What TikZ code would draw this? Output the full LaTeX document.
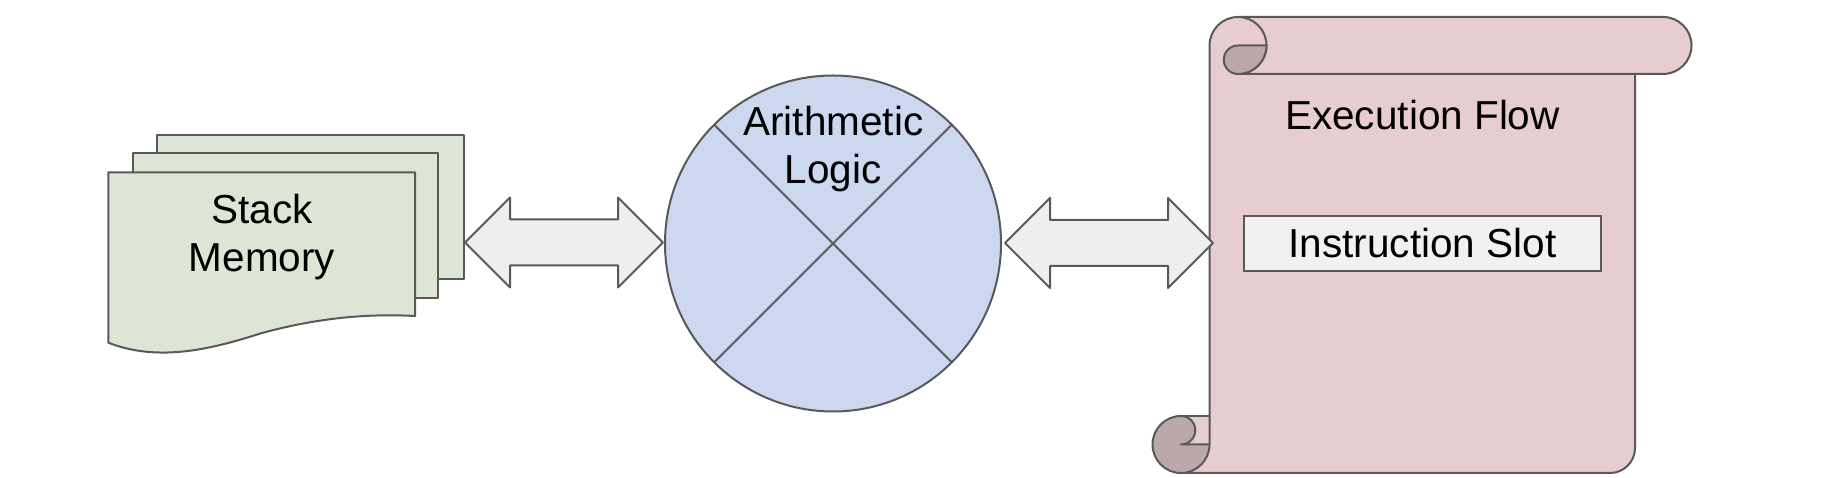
\documentclass[tikz,border=0pt]{standalone}
\usepackage{fontspec}
\setmainfont{Liberation Sans}
\usetikzlibrary{calc}
\definecolor{edgegray}{HTML}{595959}
\definecolor{memfill}{HTML}{DDE6D5}
\definecolor{alufill}{HTML}{CBD8EF}
\definecolor{scrollfill}{HTML}{E8CDD0}
\definecolor{curlfill}{HTML}{BBA8AA}
\definecolor{arrowfill}{HTML}{EEEEEE}
\definecolor{slotfill}{HTML}{F1F1F1}
\newcommand\dblarrow[2]{%
  \draw[edgeline, fill=arrowfill] (#1) -- ++(45,45) -- ++(0,-22) -- ($(#2)+(-45,23)$) -- ++(0,22) -- (#2)
    -- ++(-45,-45) -- ++(0,22) -- ($(#1)+(45,-23)$) -- ++(0,-22) -- cycle;}
\begin{document}
\begin{tikzpicture}[x=1pt,y=1pt,
  edgeline/.style={draw=edgegray, line width=2pt, line join=round},
  txt/.style={font=\fontsize{40.5}{48.6}\selectfont, text=black, inner sep=0pt}]
\fill[white] (0,0) rectangle (1822,478);
\useasboundingbox (0,0) rectangle (1822,478);

% Stack memory (multi-document)
\draw[edgeline, fill=memfill] (156.7,198.7) rectangle (464.3,343);
\draw[edgeline, fill=memfill] (133.3,179.7) rectangle (438.3,324.7);
\draw[edgeline, fill=memfill] (108.3,305.7) -- (415,305.7) -- (415,162)
  .. controls (360,165) and (310,158) .. (262,145)
  .. controls (215,130) and (160,115) .. (108.3,135.3) -- cycle;
\node[txt, anchor=base] (stk1) at (262,254.7) {Stack};
\node[txt, anchor=base] (stk2) at (262,206.3) {Memory};

% ALU circle
\node[circle, draw=edgegray, line width=2pt, fill=alufill, minimum size=336pt, inner sep=0pt, outer sep=0pt] (alu) at (833,234.5) {};
\draw[edgeline] (alu.135) -- (alu.-45);
\draw[edgeline] (alu.45) -- (alu.-135);
\node[txt, anchor=base] (alu1) at (833.3,342) {Arithmetic};
\node[txt, anchor=base] (alu2) at (833.3,294) {Logic};

% Scroll
\fill[scrollfill] (1209.5,432.5) -- (1209.5,62) -- (1181,62) -- (1181,5) -- (1610,5) arc(-90:0:25) -- (1635,432.5) -- cycle;
\fill[scrollfill] (1238,461) -- (1663,461) arc(90:-90:28.5) -- (1238,404) -- cycle;
\fill[scrollfill] (1238,432.5) circle (28.5);
\draw[edgeline] (1209.5,33.5) -- (1209.5,432.5) arc(180:-90:28.5);
\draw[edgeline] (1238,461) -- (1663,461) arc(90:-90:28.5) -- (1238,404);
\draw[edgeline] (1635,404) -- (1635,30) arc(0:-90:25) -- (1181,5);
\draw[edgeline] (1181,62) -- (1209.5,62);
\draw[edgeline, fill=curlfill] (1238,432.5) -- (1266.5,432.5) arc(0:-90:28.5) arc(270:90:14.25) -- cycle;
\draw[edgeline, fill=curlfill] (1209.5,33.5) arc(0:-270:28.5) arc(90:-90:14.25) -- cycle;
\node[txt, anchor=base] (flow) at (1422.5,348.7) {Execution Flow};
\node[draw=edgegray, line width=2pt, fill=slotfill, minimum width=356.7pt, minimum height=55.3pt, inner sep=0pt, font=\fontsize{40.5}{48.6}\selectfont] (slot) at (1422.4,234.6) {Instruction Slot};

% Connectors (block double arrows)
\coordinate (memR) at (465,235.5);
\coordinate (aluL) at (663,235.5);
\coordinate (aluR) at (1005,235);
\coordinate (scrL) at (1213,235);
\dblarrow{memR}{aluL}
\dblarrow{aluR}{scrL}
\end{tikzpicture}
\end{document}
